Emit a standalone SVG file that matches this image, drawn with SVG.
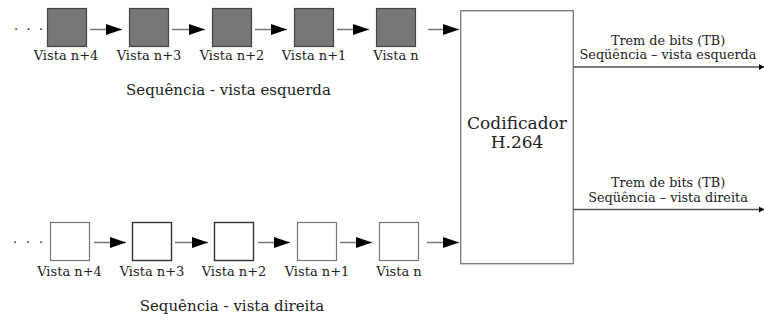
<svg xmlns="http://www.w3.org/2000/svg" width="764" height="320" viewBox="0 0 764 320">
  <style>
    text { font-family: "DejaVu Serif", "Liberation Serif", serif; fill: #222; }
    .lbl { font-size: 13px; text-anchor: middle; }
    .out-lbl { font-size: 12.8px; text-anchor: middle; }
    .seq { font-size: 15px; text-anchor: middle; }
    .enc { font-size: 17px; text-anchor: middle; }
    .dots { font-size: 13px; text-anchor: middle; }
    .frame-l { fill: #777; stroke: #444; stroke-width: 1.2; }
    .frame-r { fill: #fff; stroke: #777; stroke-width: 1.2; }
    .frame-r.dark { stroke: #333; stroke-width: 1.4; }
    .conn { stroke: #777; stroke-width: 1.5; fill: none; marker-end: url(#head); }
    .out { stroke: #555; stroke-width: 1.3; fill: none; marker-end: url(#tip); }
  </style>
  <defs>
    <marker id="head" markerUnits="userSpaceOnUse" markerWidth="17" markerHeight="12" refX="16" refY="6" orient="auto">
      <path d="M0,0.5 L16,6 L0,11.5 Z" fill="#000"/>
    </marker>
    <marker id="tip" markerUnits="userSpaceOnUse" markerWidth="6" markerHeight="8" refX="5" refY="4" orient="auto">
      <path d="M0,1 L5,4 L0,7 Z" fill="#000"/>
    </marker>
  </defs>

  <!-- left view sequence -->
  <text class="dots" y="29.5"><tspan x="16">.</tspan><tspan x="28.5">.</tspan><tspan x="41">.</tspan></text>
  <g id="left-n4"><rect class="frame-l" x="47.5" y="8.5" width="39" height="38"/><text class="lbl" x="66" y="60">Vista n+4</text></g>
  <g id="left-n3"><rect class="frame-l" x="129.5" y="8.5" width="39" height="38"/><text class="lbl" x="149" y="60">Vista n+3</text></g>
  <g id="left-n2"><rect class="frame-l" x="212.5" y="8.5" width="39" height="38"/><text class="lbl" x="232" y="60">Vista n+2</text></g>
  <g id="left-n1"><rect class="frame-l" x="294.5" y="8.5" width="39" height="38"/><text class="lbl" x="314" y="60">Vista n+1</text></g>
  <g id="left-n"><rect class="frame-l" x="376.5" y="8.5" width="39" height="38"/><text class="lbl" x="396" y="60">Vista n</text></g>
  <text class="seq" x="228.5" y="95">Sequência - vista esquerda</text>

  <!-- right view sequence -->
  <text class="dots" y="243"><tspan x="15">.</tspan><tspan x="28">.</tspan><tspan x="41">.</tspan></text>
  <g id="right-n4"><rect class="frame-r" x="50.5" y="222.5" width="39" height="38"/><text class="lbl" x="69.5" y="276">Vista n+4</text></g>
  <g id="right-n3"><rect class="frame-r dark" x="132.5" y="222.5" width="39" height="38"/><text class="lbl" x="152" y="276">Vista n+3</text></g>
  <g id="right-n2"><rect class="frame-r dark" x="214.5" y="222.5" width="39" height="38"/><text class="lbl" x="234" y="276">Vista n+2</text></g>
  <g id="right-n1"><rect class="frame-r" x="297.5" y="222.5" width="39" height="38"/><text class="lbl" x="317" y="276">Vista n+1</text></g>
  <g id="right-n"><rect class="frame-r" x="379.5" y="222.5" width="39" height="38"/><text class="lbl" x="399" y="276">Vista n</text></g>
  <text class="seq" x="232" y="311">Sequência - vista direita</text>

  <!-- encoder -->
  <g id="encoder">
    <rect x="460.7" y="10.7" width="112.6" height="253" fill="#fff" stroke="#777" stroke-width="1.3"/>
    <text class="enc" x="517" y="128.5">Codificador</text>
    <text class="enc" x="517" y="147.5">H.264</text>
  </g>

  <!-- output bitstreams -->
  <g id="out-left">
    <text class="out-lbl" x="668" y="44.5">Trem de bits (TB)</text>
    <text class="out-lbl" x="668" y="59">Seqüência – vista esquerda</text>
  </g>
  <g id="out-right">
    <text class="out-lbl" x="668" y="187">Trem de bits (TB)</text>
    <text class="out-lbl" x="668" y="201.5">Seqüência – vista direita</text>
  </g>

  <g id="connectors">
    <line class="conn" x1="90" y1="29.5" x2="122" y2="29.5"/>
    <line class="conn" x1="172" y1="29.5" x2="205" y2="29.5"/>
    <line class="conn" x1="255" y1="29.5" x2="287" y2="29.5"/>
    <line class="conn" x1="337" y1="29.5" x2="369" y2="29.5"/>
    <line class="conn" x1="428" y1="29.5" x2="459" y2="29.5"/>

    <line class="conn" x1="94" y1="242.5" x2="126" y2="242.5"/>
    <line class="conn" x1="175" y1="242.5" x2="208" y2="242.5"/>
    <line class="conn" x1="258" y1="242.5" x2="290" y2="242.5"/>
    <line class="conn" x1="340" y1="242.5" x2="372" y2="242.5"/>
    <line class="conn" x1="427" y1="242.5" x2="459" y2="242.5"/>

    <line class="out" x1="573.3" y1="67" x2="764" y2="67"/>
    <line class="out" x1="573.3" y1="209.5" x2="764" y2="209.5"/>
  </g>
</svg>
